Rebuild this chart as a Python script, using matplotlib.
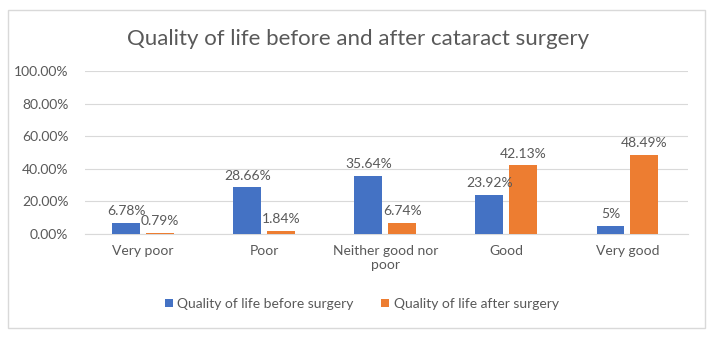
"""
Grouped bar chart: quality of life before and after cataract surgery.

Output:
    out.png
"""

import numpy as np
import matplotlib.pyplot as plt
from matplotlib.patches import Rectangle


# ---------------------------------------------------------------------
# Data
# ---------------------------------------------------------------------

CATEGORIES = ["Very poor", "Poor", "Neither good nor\npoor", "Good", "Very good"]
BEFORE = [6.78, 28.66, 35.64, 23.92, 5.0]
AFTER = [0.79, 1.84, 6.74, 42.13, 48.49]
BEFORE_LABELS = ["6.78%", "28.66%", "35.64%", "23.92%", "5%"]
AFTER_LABELS = ["0.79%", "1.84%", "6.74%", "42.13%", "48.49%"]
Y_TICKS = [0, 20, 40, 60, 80, 100]

SERIES_NAMES = ["Quality of life before surgery", "Quality of life after surgery"]

BLUE = "#4472C4"
ORANGE = "#ED7D31"
TEXT_GRAY = "#595959"
GRID_GRAY = "#D9D9D9"

plt.rcParams["font.family"] = ["Lato", "DejaVu Sans"]


def draw_chart():
    fig = plt.figure(figsize=(7.16, 3.37), dpi=100)

    # outer chart border
    fig.patches.append(Rectangle((8 / 716, 9 / 337), 697 / 716, 318 / 337,
                                 transform=fig.transFigure, fill=False,
                                 edgecolor=GRID_GRAY, linewidth=1))

    ax = fig.add_axes([85 / 716, 103 / 337, 603 / 716, 163 / 337])

    x = np.arange(len(CATEGORIES))
    width = 0.23
    offset = 0.14

    bars_before = ax.bar(x - offset, BEFORE, width, color=BLUE, label=SERIES_NAMES[0], zorder=3)
    bars_after = ax.bar(x + offset, AFTER, width, color=ORANGE, label=SERIES_NAMES[1], zorder=3)

    ax.bar_label(bars_before, labels=BEFORE_LABELS, padding=4, fontsize=10, color=TEXT_GRAY)
    ax.bar_label(bars_after, labels=AFTER_LABELS, padding=4, fontsize=10, color=TEXT_GRAY)

    ax.set_xlim(-0.48, 4.5)
    ax.set_ylim(0, 100)
    ax.set_yticks(Y_TICKS)
    ax.set_yticklabels([f"{v:.2f}%" for v in Y_TICKS])
    ax.set_xticks(x)
    ax.set_xticklabels(CATEGORIES)

    ax.tick_params(axis="both", length=0, labelsize=10, colors=TEXT_GRAY)
    ax.tick_params(axis="y", pad=12)
    ax.tick_params(axis="x", pad=8)

    ax.grid(axis="y", color=GRID_GRAY, linewidth=0.8, zorder=0)
    for side in ["top", "right", "left"]:
        ax.spines[side].set_visible(False)
    ax.spines["bottom"].set_color(GRID_GRAY)

    fig.text(0.5, 0.885, "Quality of life before and after cataract surgery",
             ha="center", va="center", fontsize=16, color=TEXT_GRAY)

    fig.legend(handles=[bars_before, bars_after], loc="center",
               bbox_to_anchor=(0.505, 0.098), ncol=2, frameon=False,
               fontsize=10, labelcolor=TEXT_GRAY, handlelength=0.6,
               handleheight=0.6, handletextpad=0.3, columnspacing=2.0)

    fig.savefig("out.png", dpi=100)
    plt.close(fig)


if __name__ == "__main__":
    draw_chart()
